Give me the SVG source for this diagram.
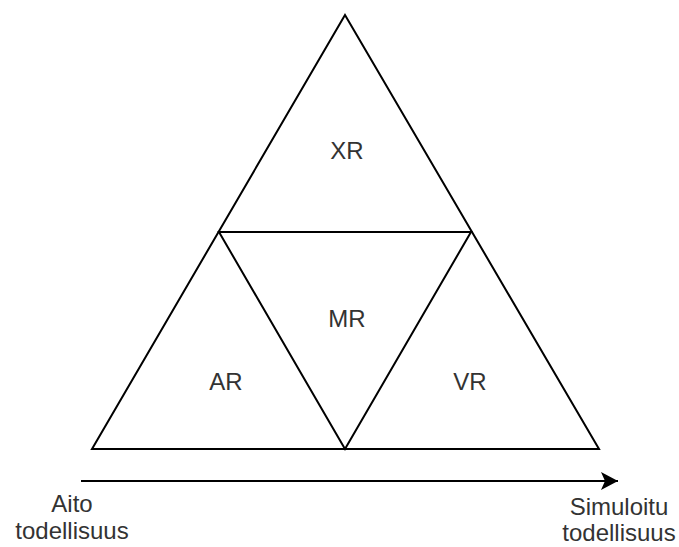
<svg xmlns="http://www.w3.org/2000/svg" width="679" height="547" viewBox="0 0 679 547">
<defs>
<style>
.ln{fill:none;stroke:#000;stroke-width:2;stroke-linejoin:miter}
.t{font-family:"Liberation Sans",Arial,sans-serif;font-size:24px;fill:#333;text-anchor:middle}
</style>
<marker id="ah" markerWidth="18" markerHeight="18" refX="17" refY="9" orient="auto" markerUnits="userSpaceOnUse" viewBox="0 0 18 18">
<path d="M0,0 L17,9 L0,18 L4,9 Z" fill="#000"/>
</marker>
</defs>
<rect width="679" height="547" fill="#fff"/>
<g id="outer"><path class="ln" d="M345,15 L599,449 L92,449 Z"/></g>
<g id="mr"><path class="ln" d="M219,232 L471,232 L345,449 Z"/></g>
<g id="labels">
<text class="t" x="347" y="159">XR</text>
<text class="t" x="347" y="327">MR</text>
<text class="t" x="226" y="390">AR</text>
<text class="t" x="470" y="390">VR</text>
</g>
<g id="connectors">
<line class="ln" x1="81" y1="481" x2="618" y2="481" marker-end="url(#ah)"/>
</g>
<g id="axis-labels">
<text class="t" x="72" y="512">Aito</text>
<text class="t" x="72" y="539">todellisuus</text>
<text class="t" x="619" y="515">Simuloitu</text>
<text class="t" x="619" y="541">todellisuus</text>
</g>
</svg>
